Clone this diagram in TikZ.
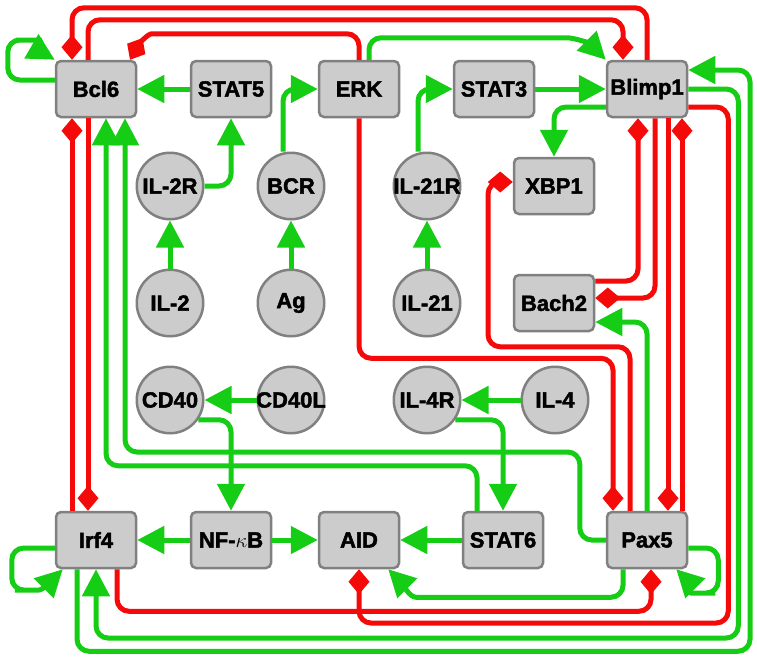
\documentclass[tikz,border=0pt]{standalone}
\usepackage{fontspec}
\setmainfont{Liberation Sans}[BoldFeatures={FakeBold=2}]
\usepackage{tikz}
\usetikzlibrary{arrows.meta}
\definecolor{actgreen}{RGB}{20,205,20}
\definecolor{inhred}{RGB}{245,10,10}
\definecolor{nodegray}{RGB}{204,204,204}
\definecolor{bordergray}{RGB}{128,128,128}
\tikzstyle{gene}=[draw=bordergray,fill=nodegray,line width=2.5pt,rounded corners=5pt,minimum width=80pt,minimum height=56pt,inner sep=0pt,font=\bfseries\fontsize{22}{22}\selectfont]
\tikzstyle{sig}=[gene,circle,inner sep=-4pt,minimum size=66.5pt]
\tikzstyle{act}=[actgreen,line width=5pt,rounded corners=12pt,-{Triangle[length=27pt,width=27pt]}]
\tikzstyle{inh}=[inhred,line width=5pt,rounded corners=12pt,-{Diamond[length=25pt,width=21pt]}]

\begin{document}
\begin{tikzpicture}[x=1pt,y=-1pt]
	\useasboundingbox (0,0) rectangle (757,659);
	\node[gene] (Bcl6)   at (96,89)  {Bcl6};
	\node[gene] (STAT5)  at (231,89) {STAT5};
	\node[gene] (ERK)    at (359,89) {ERK};
	\node[gene] (STAT3)  at (494,89) {STAT3};
	\node[gene] (Blimp1) at (647,89) {Blimp1};
	\node[gene] (XBP1)   at (554,186) {XBP1};
	\node[gene] (Bach2)  at (554,303) {Bach2};
	\node[gene] (Irf4)   at (96,540)  {Irf4};
	\node[gene] (NFkB)   at (231,540) {NF-$\kappa$B};
	\node[gene] (AID)    at (359,540) {AID};
	\node[gene] (STAT6)  at (503,540) {STAT6};
	\node[gene] (Pax5)   at (647,540) {Pax5};
	\node[sig] (IL2R)  at (170,186) {IL-2R};
	\node[sig] (BCR)   at (291,186) {BCR};
	\node[sig] (IL21R) at (427,186) {IL-21R};
	\node[sig] (IL2)   at (170,303) {IL-2};
	\node[sig] (Ag)    at (291,303) {Ag};
	\node[sig] (IL21)  at (427,303) {IL-21};
	\node[sig] (CD40)  at (170,400) {CD40};
	\node[sig] (CD40L) at (291,400) {CD40L};
	\node[sig] (IL4R)  at (427,400) {IL-4R};
	\node[sig] (IL4)   at (555,400) {IL-4};

	\draw[inh] (Blimp1.north) -- ++(0,-52) -| ([xshift=-24pt]Bcl6.north);
	\draw[inh] ([xshift=-8pt]Bcl6.north) -- ++(0,-40) -| ([xshift=-24pt]Blimp1.north);
	\draw[inh] ([xshift=-8pt]Bcl6.south) -- ([xshift=-8pt]Irf4.north);
	\draw[inh] ([xshift=-24pt]Irf4.north) -- ([xshift=-24pt]Bcl6.south);
	\draw[inh] (ERK.north) -- ++(0,-26) -- ++(-195,0) to[out=180,in=60] ([xshift=34pt]Bcl6.north);
	\draw[inh] (ERK.south) -- ++(0,240) -| ([xshift=-34pt]Pax5.north);
	\draw[inh] ([xshift=-17pt]Pax5.north) -- ++(0,-164) -- ++(-142,0) |- ([yshift=4pt]XBP1.west);
	\draw[inh] ([yshift=22pt]Bach2.east) -| ([xshift=-9pt]Blimp1.south);
	\draw[inh] ([xshift=8pt]Blimp1.south) |- ([yshift=5pt]Bach2.east);
	\draw[inh] ([xshift=21pt]Blimp1.south) -- ([xshift=21pt]Pax5.north);
	\draw[inh] ([xshift=35pt]Pax5.north) -- ([xshift=35pt]Blimp1.south);
	\draw[inh] ([xshift=21pt]Irf4.south) -- ++(0,42) -| ([xshift=4pt]Pax5.south);
	\draw[inh] ([yshift=-18pt]Blimp1.east) -- ++(40,0) -- ++(0,516) -| (AID.south);

	\draw[act] ([yshift=9pt]Bcl6.west) -- ++(-47,0) -- ++(0,-40) -- ++(20,0) to[out=0,in=150] (Bcl6.north west);
	\draw[act] (STAT5) -- (Bcl6);
	\draw[act] (IL2R.east) -| (STAT5.south);
	\draw[act] (IL2) -- (IL2R);
	\draw[act] (Ag) -- (BCR);
	\draw[act] (IL21) -- (IL21R);
	\draw[act] ([xshift=-8pt]BCR.north) |- (ERK.west);
	\draw[act] ([xshift=-9pt]IL21R.north) |- (STAT3.west);
	\draw[act] (STAT3) -- (Blimp1);
	\draw[act] ([xshift=10pt]ERK.north) -- ++(0,-22) -- ++(185,0) to[out=0,in=135] (Blimp1.north west);
	\draw[act] ([yshift=-18pt]Blimp1.west) -| (XBP1.north);
	\draw[act] (CD40L) -- (CD40);
	\draw[act] (IL4) -- (IL4R);
	\draw[act] (CD40.-35) -| (NFkB.north);
	\draw[act] (IL4R.-35) -| (STAT6.north);
	\draw[act] (NFkB) -- (Irf4);
	\draw[act] (NFkB) -- (AID);
	\draw[act] (STAT6) -- (AID);
	\draw[act] ([xshift=-26pt]STAT6.north) -- ++(0,-45) -| ([xshift=10pt]Bcl6.south);
	\draw[act] (Pax5.west) -- ++(-26,0) -- ++(0,-88) -| ([xshift=29pt]Bcl6.south);
	\draw[act] (Pax5.north) |- ([yshift=-19pt]Bach2.east);
	\draw[act] ([xshift=-24pt]Pax5.south) -- ++(0,28) -- ++(-195,0) to[out=180,in=-45] ([xshift=-12pt]AID.south east);
	\draw[act] ([yshift=-8pt]Pax5.east) -- ++(30,0) -- ++(0,45) -- ++(-15,0) to[out=180,in=-45] ([xshift=-12pt]Pax5.south east);
	\draw[act] ([yshift=-8pt]Irf4.west) -- ++(-43,0) -- ++(0,42) -- ++(15,0) to[out=0,in=-135] ([xshift=8pt]Irf4.south west);
	\draw[act] (Blimp1.east) -- ++(50,0) -- ++(0,549) -| (Irf4.south);
	\draw[act] ([xshift=-19pt]Irf4.south) |- ++(673,82) |- ([yshift=19pt]Blimp1.east);
\end{tikzpicture}
\end{document}
